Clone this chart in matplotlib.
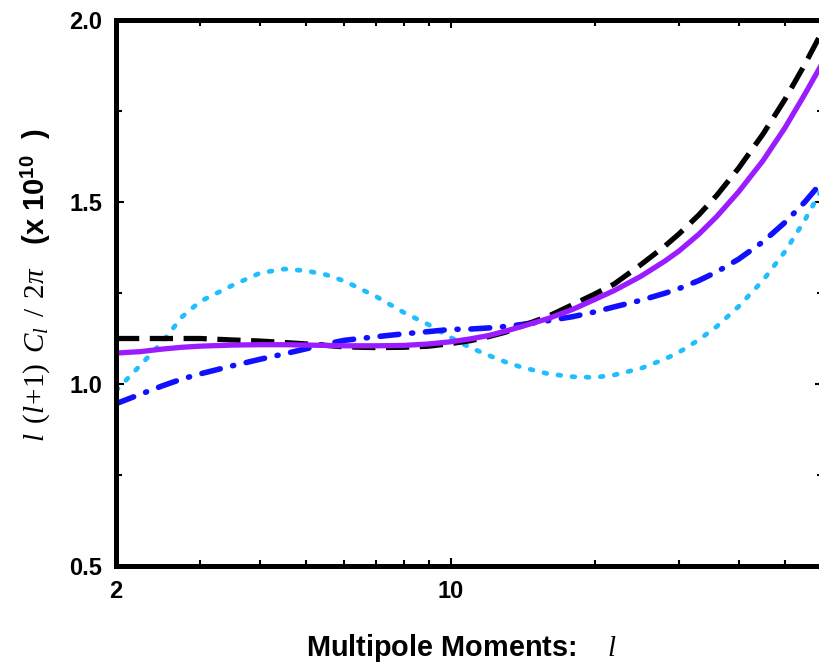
import matplotlib
matplotlib.use('Agg')
import matplotlib.pyplot as plt
from matplotlib.ticker import FixedLocator, NullFormatter, FixedFormatter

plt.rcParams['font.family'] = ['Liberation Sans', 'DejaVu Sans']
plt.rcParams['mathtext.fontset'] = 'custom'
plt.rcParams['mathtext.it'] = 'Liberation Serif:italic'
plt.rcParams['mathtext.rm'] = 'Liberation Serif'
plt.rcParams['mathtext.bf'] = 'Liberation Sans:bold'

# multipole l and values
ell = [2, 2.25, 2.5, 2.75, 3, 3.5, 4, 4.5, 5, 5.5, 6, 7, 8, 9, 10, 11, 12, 13, 14, 16, 18,
       20, 22, 25, 28, 30, 33, 36, 40, 45, 50, 55, 60]
black_dash = [1.125, 1.125, 1.125, 1.125, 1.125, 1.121, 1.118, 1.114, 1.110, 1.106, 1.102,
              1.100, 1.101, 1.104, 1.111, 1.119, 1.130, 1.142, 1.158, 1.186, 1.218,
              1.247, 1.275, 1.328, 1.378, 1.412, 1.464, 1.518, 1.593, 1.687, 1.782,
              1.878, 1.972]
purple = [1.085, 1.089, 1.096, 1.101, 1.104, 1.107, 1.108, 1.108, 1.107, 1.106, 1.105,
          1.105, 1.106, 1.110, 1.116, 1.124, 1.133, 1.145, 1.157, 1.180, 1.205,
          1.232, 1.257, 1.296, 1.337, 1.365, 1.411, 1.460, 1.528, 1.614, 1.704,
          1.796, 1.884]
blue_dashdot = [0.946, 0.972, 0.995, 1.014, 1.028, 1.050, 1.068, 1.083, 1.097, 1.110, 1.120,
                1.130, 1.138, 1.144, 1.150, 1.151, 1.154, 1.158, 1.163, 1.174, 1.185,
                1.198, 1.212, 1.230, 1.249, 1.262, 1.284, 1.308, 1.343, 1.391, 1.444,
                1.500, 1.558]
cyan_dot = [0.982, 1.052, 1.116, 1.185, 1.227, 1.271, 1.305, 1.316, 1.311, 1.300, 1.283,
            1.240, 1.196, 1.163, 1.128, 1.100, 1.079, 1.061, 1.047, 1.028, 1.020,
            1.018, 1.025, 1.043, 1.068, 1.087, 1.121, 1.158, 1.213, 1.285, 1.364,
            1.450, 1.540]

fig = plt.figure(figsize=(8.2, 6.67), dpi=100)
ax = fig.add_axes([0.1415, 0.1514, 0.862, 0.8186])

ax.plot(ell, cyan_dot, color='#1ebeff', lw=3.4, dashes=(0.6, 2.4),
        dash_capstyle='round')
ax.plot(ell, blue_dashdot, color='#1010ff', lw=4.0, dashes=(3.4, 2.3, 0.2, 2.3),
        dash_capstyle='round')
ax.plot(ell, black_dash, color='black', lw=3.8, dashes=(4.4, 2.0))
ax.plot(ell, purple, color='#9a1cff', lw=3.8)

ax.set_xscale('log')
ax.set_xlim(2, 60)
ax.set_ylim(0.5, 2.0)

ax.xaxis.set_major_locator(FixedLocator([2, 10]))
ax.xaxis.set_major_formatter(FixedFormatter(['2', '10']))
ax.xaxis.set_minor_locator(FixedLocator([3, 4, 5, 6, 7, 8, 9, 20, 30, 40, 50]))
ax.xaxis.set_minor_formatter(NullFormatter())
ax.set_yticks([0.5, 1.0, 1.5, 2.0])
ax.set_yticklabels(['0.5', '1.0', '1.5', '2.0'])
ax.yaxis.set_minor_locator(FixedLocator([0.75, 1.25, 1.75]))

ax.tick_params(which='both', direction='in', top=True, right=True, width=1.5)
ax.tick_params(which='major', length=6, pad=10, labelsize=17)
ax.tick_params(which='minor', length=4)
for lab in ax.get_xticklabels() + ax.get_yticklabels():
    lab.set_fontweight('bold')

for s in ax.spines.values():
    s.set_linewidth(3.6)

ax.set_xlabel(r'Multipole Moments:  $\ \ l$', fontsize=20.8, fontweight='bold')
ax.xaxis.set_label_coords(0.488, -0.121)
ax.xaxis.label.set_va('top')

fig.text(0.044, 1 - 285 / 667.0,
         r'$l\ \,(l\!+\!1)\ \,C_l\ \,/\ \,2\pi$   (x 10$^{\mathbf{10}}$  )',
         rotation=90, ha='center', va='center', fontsize=21, fontweight='bold')

fig.savefig('out.png', dpi=100)
